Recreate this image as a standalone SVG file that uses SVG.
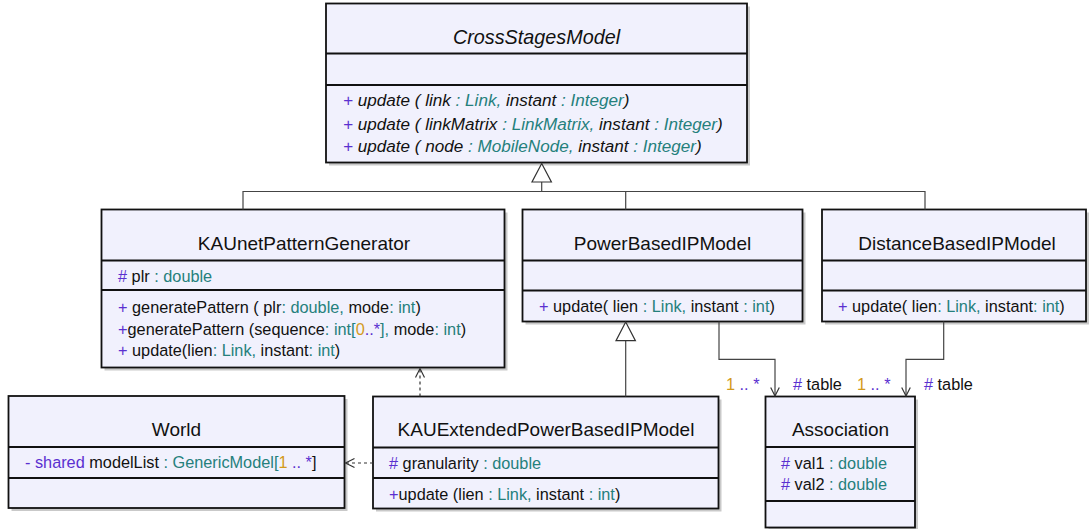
<svg xmlns="http://www.w3.org/2000/svg" width="1089" height="529" viewBox="0 0 1089 529">
<style>
.bg{fill:#ffffff}
.shadow{fill:#c9c9c9}
.box{fill:#f1f1fd;stroke:#111;stroke-width:1.8}
.div{stroke:#111;stroke-width:1.8}
.title{font-family:"Liberation Sans",Arial,sans-serif;font-size:19px;fill:#111;text-anchor:middle}
.mem{font-family:"Liberation Sans",Arial,sans-serif;font-size:16.3px;fill:#111}
.it{font-style:italic}
.mi{font-size:17.1px}
.ti{font-size:19.8px}
.v{fill:#5a30d0}
.t{fill:#25807c}
.m{fill:#d39a1c}
.ln{fill:none;stroke:#444;stroke-width:1.2}
.dash{fill:none;stroke:#333;stroke-width:1.2;stroke-dasharray:3,3}
.tri{fill:#ffffff;stroke:#333;stroke-width:1.2}
.head{fill:none;stroke:#333;stroke-width:1.2}
</style>
<rect class="bg" x="0" y="0" width="1089" height="529"/>

<g id="CrossStagesModel">
<rect class="shadow" x="329" y="6.5" width="421" height="159"/>
<rect class="box" x="326" y="3.5" width="421" height="159"/>
<line class="div" x1="326" y1="53.5" x2="747" y2="53.5"/>
<line class="div" x1="326" y1="85" x2="747" y2="85"/>
<text class="title it ti" x="536.5" y="43.5">CrossStagesModel</text>
<text class="mem it mi" x="343" y="105.5"><tspan class="v">+ </tspan>update ( link <tspan class="t">: Link,</tspan> instant <tspan class="t">: Integer</tspan>)</text>
<text class="mem it mi" x="343" y="129.5"><tspan class="v">+ </tspan>update ( linkMatrix <tspan class="t">: LinkMatrix,</tspan> instant <tspan class="t">: Integer</tspan>)</text>
<text class="mem it mi" x="343" y="152"><tspan class="v">+ </tspan>update ( node <tspan class="t">: MobileNode,</tspan> instant <tspan class="t">: Integer</tspan>)</text>
</g>

<g id="KAUnetPatternGenerator">
<rect class="shadow" x="104.5" y="212.5" width="403" height="158"/>
<rect class="box" x="101.5" y="209.5" width="403" height="158"/>
<line class="div" x1="101.5" y1="260.5" x2="504.5" y2="260.5"/>
<line class="div" x1="101.5" y1="290" x2="504.5" y2="290"/>
<text class="title" x="304" y="249.5">KAUnetPatternGenerator</text>
<text class="mem" x="118" y="282"><tspan class="v"># </tspan>plr <tspan class="t">: double</tspan></text>
<text class="mem" x="118" y="313"><tspan class="v">+ </tspan>generatePattern ( plr<tspan class="t">: double,</tspan> mode<tspan class="t">: int</tspan>)</text>
<text class="mem" x="118" y="334.5"><tspan class="v">+</tspan>generatePattern (sequence<tspan class="t">: int[</tspan><tspan class="m">0</tspan><tspan class="v">..*</tspan><tspan class="t">],</tspan> mode<tspan class="t">: int</tspan>)</text>
<text class="mem" x="118" y="356"><tspan class="v">+ </tspan>update(lien<tspan class="t">: Link,</tspan> instant<tspan class="t">: int</tspan>)</text>
</g>

<g id="PowerBasedIPModel">
<rect class="shadow" x="525.5" y="212.5" width="280" height="112"/>
<rect class="box" x="522.5" y="209.5" width="280" height="112"/>
<line class="div" x1="522.5" y1="260.5" x2="802.5" y2="260.5"/>
<line class="div" x1="522.5" y1="290.5" x2="802.5" y2="290.5"/>
<text class="title" x="662.5" y="249.5">PowerBasedIPModel</text>
<text class="mem" x="539" y="312"><tspan class="v">+ </tspan>update( lien <tspan class="t">: Link,</tspan> instant <tspan class="t">: int</tspan>)</text>
</g>

<g id="DistanceBasedIPModel">
<rect class="shadow" x="825" y="212.5" width="264" height="112"/>
<rect class="box" x="822" y="209.5" width="264" height="112"/>
<line class="div" x1="822" y1="260.5" x2="1086" y2="260.5"/>
<line class="div" x1="822" y1="290.5" x2="1086" y2="290.5"/>
<text class="title" x="957" y="249.5">DistanceBasedIPModel</text>
<text class="mem" x="838" y="312"><tspan class="v">+ </tspan>update( lien<tspan class="t">: Link,</tspan> instant<tspan class="t">: int</tspan>)</text>
</g>

<g id="World">
<rect class="shadow" x="11.5" y="399" width="336" height="112"/>
<rect class="box" x="8.5" y="396" width="336" height="112"/>
<line class="div" x1="8.5" y1="447" x2="344.5" y2="447"/>
<line class="div" x1="8.5" y1="478" x2="344.5" y2="478"/>
<text class="title" x="176.5" y="436">World</text>
<text class="mem" x="25" y="468"><tspan class="v">- shared </tspan>modelList <tspan class="t">: GenericModel[</tspan><tspan class="m">1</tspan><tspan class="v"> .. *</tspan>]</text>
</g>

<g id="KAUExtendedPowerBasedIPModel">
<rect class="shadow" x="376" y="399.5" width="345.5" height="112"/>
<rect class="box" x="373" y="396.5" width="345.5" height="112"/>
<line class="div" x1="373" y1="447.5" x2="718.5" y2="447.5"/>
<line class="div" x1="373" y1="478" x2="718.5" y2="478"/>
<text class="title" x="546" y="436">KAUExtendedPowerBasedIPModel</text>
<text class="mem" x="389" y="469"><tspan class="v"># </tspan>granularity <tspan class="t">: double</tspan></text>
<text class="mem" x="389" y="499.5"><tspan class="v">+</tspan>update (lien <tspan class="t">: Link,</tspan> instant <tspan class="t">: int</tspan>)</text>
</g>

<g id="Association">
<rect class="shadow" x="768.5" y="399.5" width="149.5" height="131"/>
<rect class="box" x="765.5" y="396.5" width="149.5" height="131"/>
<line class="div" x1="765.5" y1="447" x2="915" y2="447"/>
<line class="div" x1="765.5" y1="501" x2="915" y2="501"/>
<text class="title" x="840.5" y="436">Association</text>
<text class="mem" x="781" y="469"><tspan class="v"># </tspan>val1 <tspan class="t">: double</tspan></text>
<text class="mem" x="781" y="489.5"><tspan class="v"># </tspan>val2 <tspan class="t">: double</tspan></text>
</g>

<g id="connectors">
<polyline class="ln" points="541.7,182 541.7,191.5"/>
<polyline class="ln" points="243,209.5 243,191.5 925,191.5 925,209.5"/>
<line class="ln" x1="625.7" y1="191.5" x2="625.7" y2="209.5"/>
<polygon class="tri" points="541.7,163.5 532,182 551.4,182"/>
<line class="ln" x1="625.7" y1="340.7" x2="625.7" y2="396.5"/>
<polygon class="tri" points="625.7,322 616,340.7 635.4,340.7"/>
<line class="dash" x1="420" y1="396.5" x2="420" y2="369"/>
<polyline class="head" points="415.5,377.5 420,368.5 424.5,377.5"/>
<line class="dash" x1="373" y1="463" x2="346" y2="463"/>
<polyline class="head" points="354.5,458.5 345.5,463 354.5,467.5"/>
<polyline class="ln" points="719,321.5 719,359.3 775,359.3 775,396"/>
<polyline class="head" points="770.7,387.5 775,396 779.3,387.5"/>
<polyline class="ln" points="943.7,321.5 943.7,359.3 906,359.3 906,396"/>
<polyline class="head" points="901.7,387.5 906,396 910.3,387.5"/>
<text class="mem" x="726" y="389.5"><tspan class="m">1</tspan><tspan class="v"> .. *</tspan></text>
<text class="mem" x="793" y="389.5"><tspan class="v"># </tspan>table</text>
<text class="mem" x="857" y="389.5"><tspan class="m">1</tspan><tspan class="v"> .. *</tspan></text>
<text class="mem" x="924" y="389.5"><tspan class="v"># </tspan>table</text>
</g>
</svg>
